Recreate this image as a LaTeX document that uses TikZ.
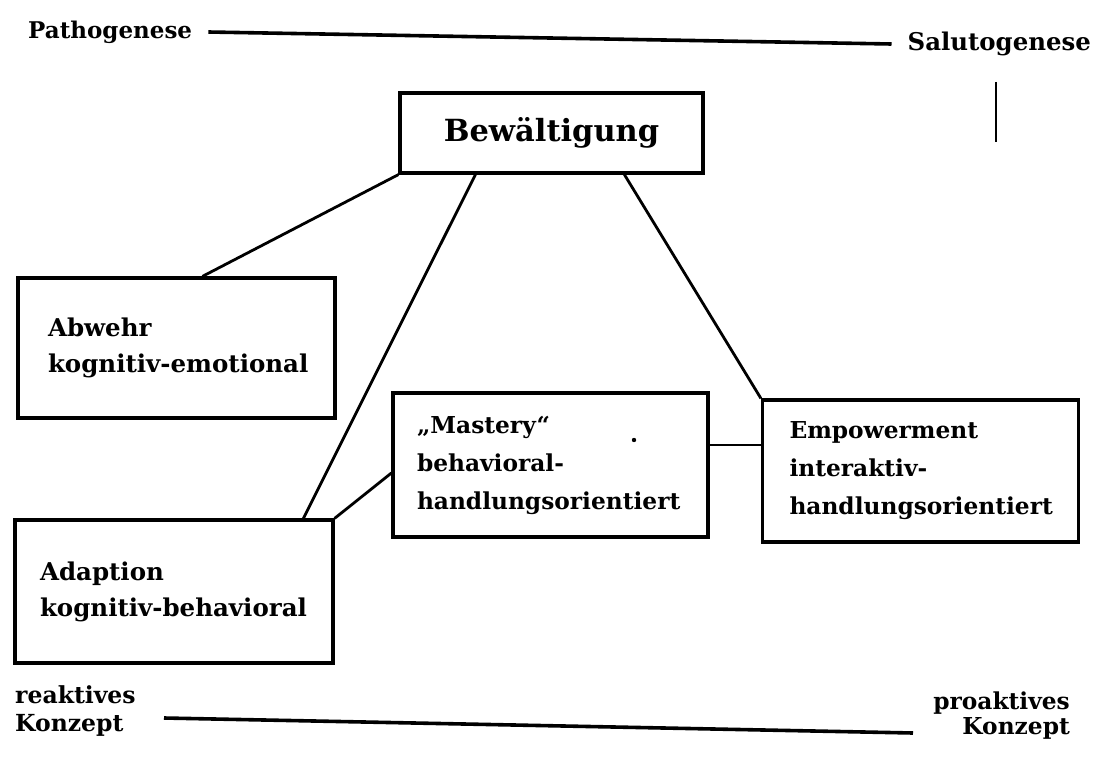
\documentclass[tikz,border=0pt]{standalone}
\usepackage{fontspec}
\setmainfont{DejaVu Serif}
\begin{document}
\begin{tikzpicture}[x=1pt,y=-1pt,
  lbl/.style={inner sep=0pt,font=\bfseries\fontsize{23}{26}\selectfont},
  boxnode/.style={draw,line width=3.2pt,inner ysep=0pt,align=left},
  fa/.style={font=\bfseries\fontsize{24.5}{36}\selectfont},
  fb/.style={font=\bfseries\fontsize{23.3}{38}\selectfont},
  conn/.style={line width=2.8pt},
  axis/.style={line width=3.6pt}]
\useasboundingbox (0,0) rectangle (1093,760);
% top axis
\node[lbl,anchor=west] (patho) at (28,32) {Pathogenese};
\node[lbl,anchor=east,font=\bfseries\fontsize{24.4}{26}\selectfont] (saluto) at (1091,44) {Salutogenese};
\draw[axis] ([xshift=16pt]patho.east) -- ([xshift=-16pt]saluto.west);
\coordinate (vt) at (996,82);
\coordinate (vb) at (996,142);
\draw[line width=1.6pt] (vt) -- (vb);
% boxes
\node[draw,line width=3.2pt,minimum width=303pt,minimum height=80pt,inner sep=0pt,
  font=\bfseries\fontsize{30.5}{34}\selectfont] (bew) at (551.5,133) {Bewältigung};
\node[boxnode,fa,inner xsep=30pt,text width=257pt,minimum height=140pt] (abw) at (176.5,348)
  {Abwehr\\\mbox{kognitiv-emotional}};
\node[boxnode,fa,inner xsep=25pt,text width=268pt,minimum height=143pt] (ada) at (174,591.5)
  {Adaption\\\mbox{kognitiv-behavioral}};
\node[boxnode,fb,inner xsep=24pt,text width=267pt,minimum height=144pt] (mas) at (550.5,465)
  {„Mastery“\\behavioral-\\handlungsorientiert};
\node[boxnode,fb,inner xsep=27pt,text width=262pt,minimum height=142pt] (emp) at (920.5,471)
  {Empowerment\\interaktiv-\\handlungsorientiert};
\fill (634,440) circle (2.2pt);
% connectors
\draw[conn] (bew.south west) -- ([xshift=186pt]abw.north west);
\draw[conn] ([xshift=77pt]bew.south west) -- ([xshift=290pt]ada.north west);
\draw[conn] ([xshift=226pt]bew.south west) -- (emp.north west);
\draw[conn] (ada.north east) -- ([yshift=-8pt]mas.west);
\draw[conn] ([yshift=20pt]mas.east) -- ([yshift=20pt]mas.east -| emp.west);
% bottom axis
\node[lbl,anchor=west,align=left,font=\bfseries\fontsize{23.5}{28}\selectfont] (reak) at (15,711) {reaktives\\Konzept};
\node[lbl,anchor=east,align=right,font=\bfseries\fontsize{23.3}{25}\selectfont] (proak) at (1070,716) {proaktives\\Konzept};
\draw[axis] (164,718) coordinate (la) -- (913,733) coordinate (lb);
\end{tikzpicture}
\end{document}
